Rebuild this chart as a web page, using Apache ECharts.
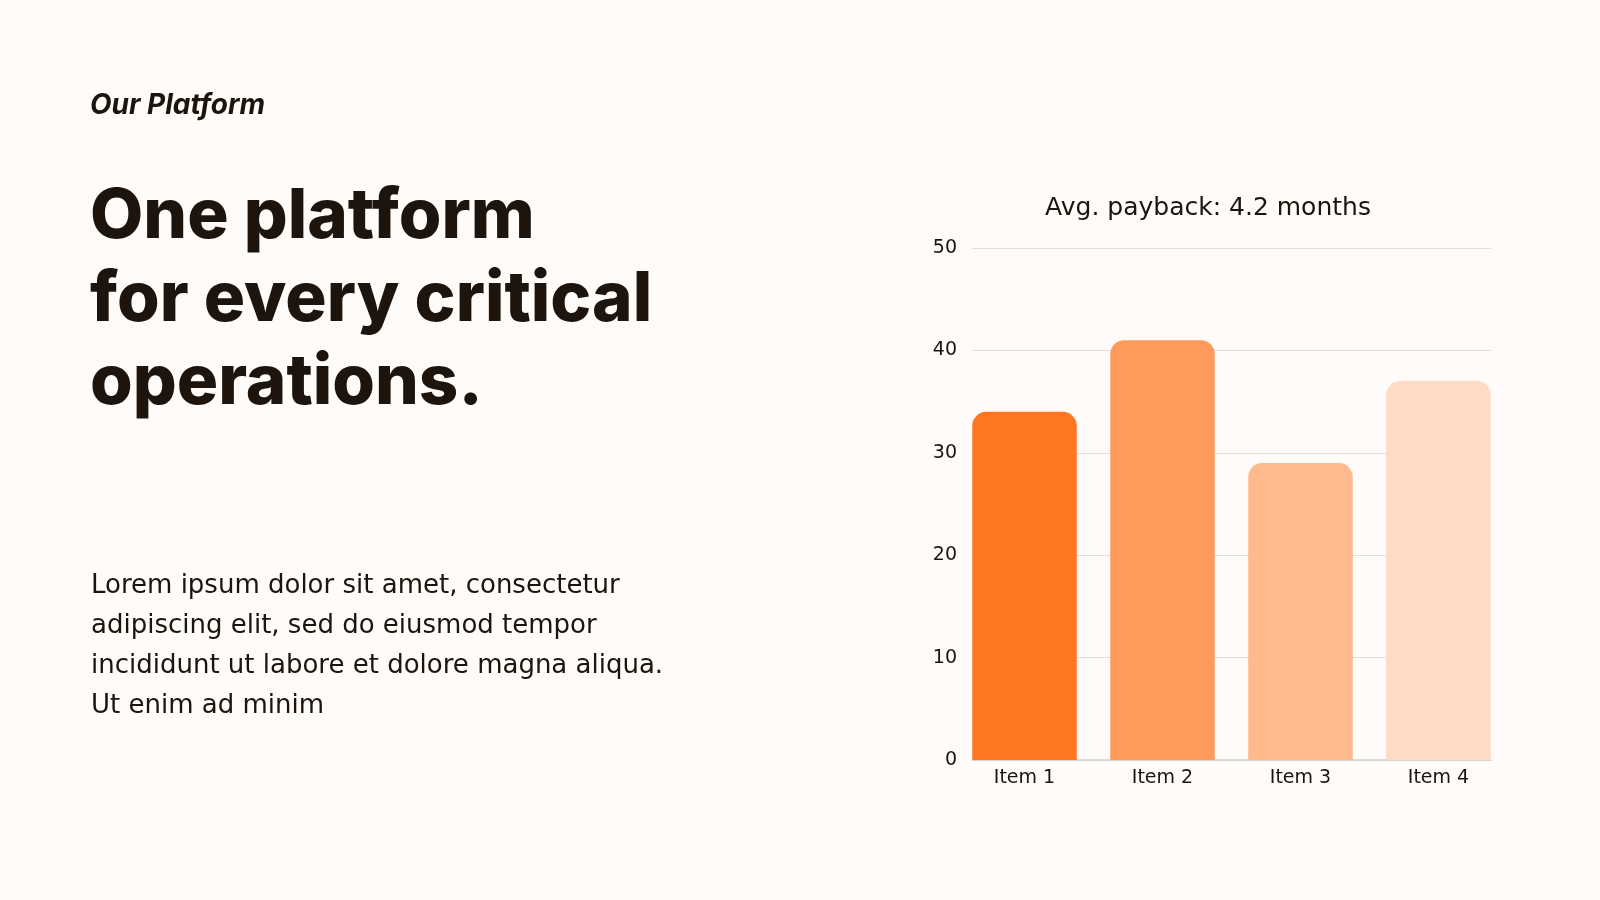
<!DOCTYPE html>
<html>
<head>
<meta charset="utf-8">
<title>Our Platform</title>
<script src="https://cdn.jsdelivr.net/npm/echarts@6/dist/echarts.min.js"></script>
<style>
  html, body { margin: 0; padding: 0; background: #fffbf8; }
  #main { width: 1600px; height: 900px; }
</style>
</head>
<body>
<div id="main"></div>
<script>
var categories = ['Item 1', 'Item 2', 'Item 3', 'Item 4'];
var paybackValues = [34, 41, 29, 37];
var barColors = ['#ff7622', '#ff9a5d', '#ffb98c', '#ffdac4'];
var yTicks = { min: 0, max: 50, interval: 10 };

var inkColor = '#1c140d';
var bodyFont = '"DejaVu Sans"';
var chartDom = document.getElementById('main');
var myChart = echarts.init(chartDom);
var option;

// bars sit on their own grid so the outer bars line up with the gridline ends
option = {
  backgroundColor: '#fffbf8',
  animation: false,
  title: {
    text: 'Avg. payback: 4.2 months',
    left: 1203,
    top: 191,
    textAlign: 'center',
    textStyle: {
      fontFamily: 'DejaVu Sans',
      fontWeight: 'normal',
      fontSize: 25,
      color: inkColor
    }
  },
  graphic: [
    {
      type: 'text',
      left: 90,
      top: 92,
      style: {
        text: 'Our Platform',
        font: 'italic bold 28px Inter',
        fill: inkColor
      }
    },
    {
      type: 'text',
      left: 90,
      top: 176,
      style: {
        text: 'One platform\nfor every critical\noperations.',
        font: '800 69px Inter',
        lineHeight: 83,
        fill: inkColor
      }
    },
    {
      type: 'text',
      left: 91,
      top: 566,
      style: {
        text: 'Lorem ipsum dolor sit amet, consectetur\nadipiscing elit, sed do eiusmod tempor\nincididunt ut labore et dolore magna aliqua.\nUt enim ad minim',
        font: '26px ' + bodyFont,
        lineHeight: 40,
        fill: inkColor
      }
    }
  ],
  grid: [
    { left: 972, width: 519, top: 248, height: 512 },
    { left: 955.5, width: 552, top: 248, height: 512 }
  ],
  xAxis: [
    {
      type: 'category',
      gridIndex: 0,
      data: categories,
      axisLine: { lineStyle: { color: '#d3d0cd', width: 1.5 } },
      axisTick: { show: false },
      axisLabel: { show: false }
    },
    {
      type: 'category',
      gridIndex: 1,
      data: categories,
      axisLine: { show: false },
      axisTick: { show: false },
      axisLabel: {
        margin: 9,
        fontFamily: 'DejaVu Sans',
        fontSize: 19,
        color: inkColor
      }
    }
  ],
  yAxis: [
    {
      type: 'value',
      gridIndex: 0,
      min: yTicks.min,
      max: yTicks.max,
      interval: yTicks.interval,
      axisLine: { show: false },
      axisTick: { show: false },
      axisLabel: {
        margin: 15,
        fontFamily: 'DejaVu Sans',
        fontSize: 19,
        color: inkColor
      },
      splitLine: { lineStyle: { color: '#e2dedb', width: 1 } }
    },
    {
      type: 'value',
      gridIndex: 1,
      min: yTicks.min,
      max: yTicks.max,
      show: false,
      splitLine: { show: false }
    }
  ],
  series: [
    {
      type: 'bar',
      xAxisIndex: 1,
      yAxisIndex: 1,
      barWidth: 104.5,
      data: paybackValues.map(function (v, i) {
        return { value: v, itemStyle: { color: barColors[i] } };
      }),
      itemStyle: { borderRadius: [14, 14, 0, 0] }
    }
  ]
};

myChart.setOption(option);
</script>
</body>
</html>
